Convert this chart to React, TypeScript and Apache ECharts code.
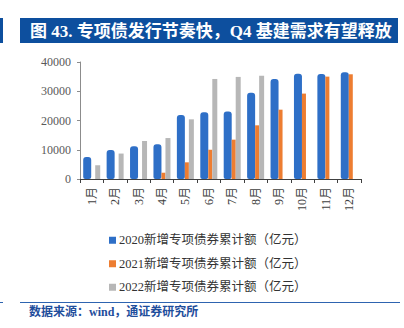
import React, { useEffect, useRef } from "react";
import * as echarts from "echarts";

const months = ["1月", "2月", "3月", "4月", "5月", "6月", "7月", "8月", "9月", "10月", "11月", "12月"];
const s2020 = [7500, 9900, 11200, 11900, 21900, 22800, 23100, 29500, 34200, 36000, 35900, 36500];
const s2021 = [0, 0, 0, 2150, 5700, 10000, 13450, 18350, 23700, 29200, 35000, 35800];
const s2022 = [4700, 8700, 13000, 14000, 20400, 34200, 34900, 35300, null, null, null, null];
const seriesNames = [
  "2020新增专项债券累计额（亿元）",
  "2021新增专项债券累计额（亿元）",
  "2022新增专项债券累计额（亿元）",
];
const yTicks = { min: 0, max: 40000, interval: 10000 };
const title = "图 43. 专项债发行节奏快，Q4 基建需求有望释放";
const source = "数据来源：wind，通证券研究所";

const SERIF = "'Liberation Serif', 'Noto Sans CJK SC', serif";
const BLUE = "#0d4f9e";

export default function App() {
  const ref = useRef<HTMLDivElement>(null);
  useEffect(() => {
    if (!ref.current) return;
    const chart = echarts.init(ref.current, null, { renderer: "svg" });
    chart.setOption({
      animation: false,
      backgroundColor: "#ffffff",
      grid: { left: 80, right: 43, top: 62, bottom: 149, containLabel: false },
      xAxis: {
        type: "category",
        data: months,
        boundaryGap: true,
        axisLine: { lineStyle: { color: "#404040", width: 1 } },
        axisTick: { show: true, alignWithLabel: false, length: 4, lineStyle: { color: "#404040" } },
        axisLabel: {
          rotate: 90,
          interval: 0,
          margin: 8,
          color: "#404040",
          fontSize: 12,
          fontFamily: SERIF,
        },
      },
      yAxis: {
        type: "value",
        min: yTicks.min,
        max: yTicks.max,
        interval: yTicks.interval,
        splitLine: { show: false },
        axisLine: { show: true, lineStyle: { color: "#8c8c8c" } },
        axisTick: { show: true, length: 3, lineStyle: { color: "#8c8c8c" } },
        axisLabel: {
          color: "#595959",
          fontSize: 12,
          fontFamily: SERIF,
          margin: 9,
          formatter: (v: number) => String(v),
        },
      },
      legend: {
        orient: "vertical",
        left: 104,
        top: 229,
        itemGap: 11,
        itemWidth: 7,
        itemHeight: 7,
        icon: "rect",
        textStyle: { color: "#333333", fontSize: 12.5, fontFamily: SERIF, padding: [0, 0, 0, -2] },
        data: [{ name: seriesNames[0] }, { name: seriesNames[1] }, { name: seriesNames[2] }],
      },
      series: [
        {
          name: seriesNames[0],
          type: "bar",
          data: s2020,
          barWidth: 8,
          barGap: "0%",
          itemStyle: { color: "#2e6fc7", borderRadius: [3, 3, 2, 2] },
        },
        {
          name: seriesNames[1],
          type: "bar",
          data: s2021,
          barWidth: 4,
          barGap: "0%",
          itemStyle: { color: "#ed7d31" },
        },
        {
          name: seriesNames[2],
          type: "bar",
          data: s2022,
          barWidth: 5,
          barGap: "0%",
          itemStyle: { color: "#b7b7b7" },
        },
      ],
      graphic: [
        { type: "rect", shape: { x: 0, y: 18, width: 3, height: 25 }, style: { fill: BLUE } },
        { type: "rect", shape: { x: 20, y: 18, width: 378, height: 25 }, style: { fill: BLUE } },
        {
          type: "text",
          x: 30,
          y: 31,
          style: {
            text: title,
            fill: "#ffffff",
            font: `bold 17px ${SERIF}`,
            verticalAlign: "middle",
            align: "left",
          },
        },
        { type: "rect", shape: { x: 0, y: 302, width: 3, height: 1 }, style: { fill: "#2e64b0" } },
        { type: "rect", shape: { x: 20, y: 302, width: 380, height: 1 }, style: { fill: "#2e64b0" } },
        {
          type: "text",
          x: 29,
          y: 312,
          style: {
            text: source,
            fill: "#1f4e9c",
            font: `bold 12px ${SERIF}`,
            verticalAlign: "middle",
            align: "left",
          },
        },
      ],
    });
    return () => chart.dispose();
  }, []);
  return <div ref={ref} style={{ width: 404, height: 328, position: "absolute", left: 0, top: 0 }} />;
}
